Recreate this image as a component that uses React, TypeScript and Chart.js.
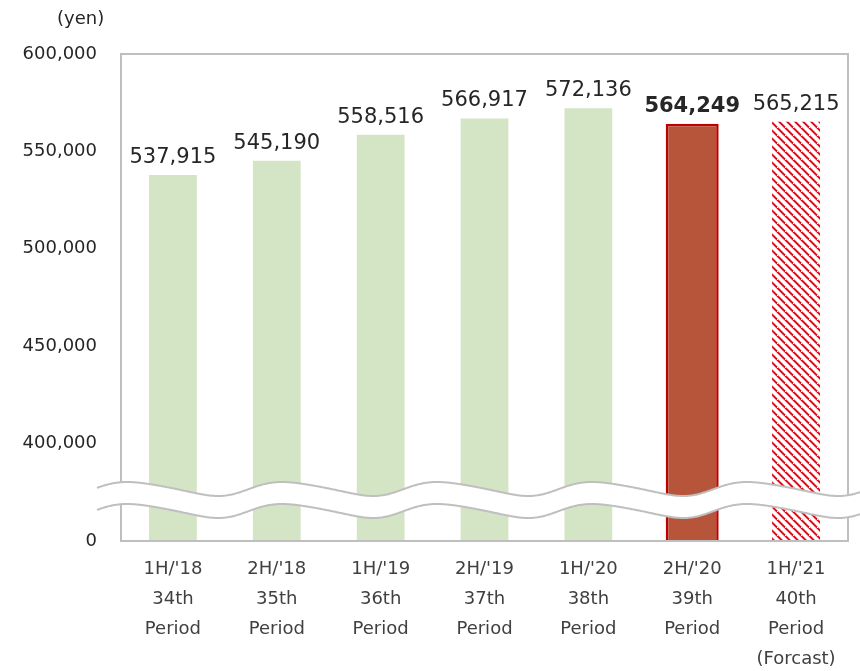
import React, { useEffect, useRef } from "react";
import { Chart, registerables } from "chart.js";

Chart.register(...registerables);

const periods: string[][] = [
  ["1H/'18", "34th", "Period"],
  ["2H/'18", "35th", "Period"],
  ["1H/'19", "36th", "Period"],
  ["2H/'19", "37th", "Period"],
  ["1H/'20", "38th", "Period"],
  ["2H/'20", "39th", "Period"],
  ["1H/'21", "40th", "Period", "(Forcast)"],
];
const values: number[] = [537915, 545190, 558516, 566917, 572136, 564249, 565215];
const kinds: string[] = ["actual", "actual", "actual", "actual", "actual", "latest", "forecast"];
const yTicks: number[] = [350000, 400000, 450000, 500000, 550000, 600000];
const yTickLabels: string[] = ["0", "400,000", "450,000", "500,000", "550,000", "600,000"];

const FONT = "'DejaVu Sans', Verdana, sans-serif";

function makePattern(): CanvasPattern | string {
  const c = document.createElement("canvas");
  c.width = 8;
  c.height = 8;
  const ctx = c.getContext("2d");
  if (!ctx) return "#e03030";
  ctx.fillStyle = "#ffffff";
  ctx.fillRect(0, 0, 8, 8);
  for (let y = 0; y < 8; y++) {
    for (let x = 0; x < 8; x++) {
      const d = (x - y + 16) % 8;
      if (y === 7 && d === 2) continue;
      if (d === 1 || d === 2) ctx.fillStyle = "#d8101e";
      else if (d === 0 || d === 3) ctx.fillStyle = "#f29aa0";
      else continue;
      ctx.fillRect(x, y, 1, 1);
    }
  }
  const p = ctx.createPattern(c, "repeat");
  return p || "#e03030";
}

const framePlugin = {
  id: "frameAndBreak",
  afterDatasetsDraw(chart: any) {
    const { ctx, chartArea } = chart;
    const { left, right, top, bottom } = chartArea;
    ctx.save();
    // plot frame
    ctx.strokeStyle = "#bfbfbf";
    ctx.lineWidth = 2;
    ctx.strokeRect(left, top, right - left, bottom - top);

    // axis break waves
    const c = bottom - 52;
    const A = 7;
    const P = 155;
    const x0 = left - 24;
    const x1 = chart.width;
    const gap = 22;
    const f = (x: number) => {
      const t = (x - (left + 6)) / P;
      const ph = 2 * Math.PI * t;
      return c - A * Math.cos(ph - 0.3 * (1 - Math.cos(ph)));
    };
    ctx.beginPath();
    for (let x = x0; x <= x1; x += 1) {
      if (x === x0) ctx.moveTo(x, f(x));
      else ctx.lineTo(x, f(x));
    }
    for (let x = x1; x >= x0; x -= 1) ctx.lineTo(x, f(x) + gap);
    ctx.closePath();
    ctx.fillStyle = "#ffffff";
    ctx.fill();

    ctx.strokeStyle = "#bfbfbf";
    ctx.lineWidth = 2;
    for (const off of [0, gap]) {
      ctx.beginPath();
      for (let x = x0; x <= x1; x += 1) {
        if (x === x0) ctx.moveTo(x, f(x) + off);
        else ctx.lineTo(x, f(x) + off);
      }
      ctx.stroke();
    }

    // value labels
    ctx.fillStyle = "#262626";
    ctx.textAlign = "center";
    ctx.textBaseline = "alphabetic";
    chart.data.datasets.forEach((ds: any, di: number) => {
      const meta = chart.getDatasetMeta(di);
      meta.data.forEach((bar: any, i: number) => {
        const v = ds.data[i];
        if (v == null) return;
        const bold = kinds[i] === "latest";
        ctx.font = `${bold ? "bold " : ""}21px ${FONT}`;
        ctx.fillText(v.toLocaleString("en-US"), bar.x, bar.y - 12);
      });
    });
    ctx.restore();
  },
};

export default function App() {
  const ref = useRef<HTMLCanvasElement | null>(null);

  useEffect(() => {
    if (!ref.current) return;
    const pattern = makePattern();
    const pick = (k: string) => values.map((v, i) => (kinds[i] === k ? v : null));
    const chart = new Chart(ref.current, {
      type: "bar",
      data: {
        labels: periods,
        datasets: [
          {
            label: "actual",
            data: pick("actual"),
            backgroundColor: "#d3e5c5",
            borderWidth: 0,
            barPercentage: 0.46,
            categoryPercentage: 1,
            grouped: false,
          } as any,
          {
            label: "latest",
            data: pick("latest"),
            backgroundColor: "#b7553b",
            borderColor: "#c00000",
            borderWidth: 2.5,
            barPercentage: 0.51,
            categoryPercentage: 1,
            grouped: false,
          } as any,
          {
            label: "forecast",
            data: pick("forecast"),
            backgroundColor: pattern,
            borderWidth: 0,
            barPercentage: 0.462,
            categoryPercentage: 1,
            grouped: false,
          } as any,
        ],
      },
      options: {
        animation: false,
        responsive: true,
        maintainAspectRatio: false,
        layout: { padding: { top: 54, right: 12, left: 0, bottom: 0 } },
        plugins: {
          legend: { display: false },
          tooltip: { enabled: false },
          title: { display: false },
        },
        scales: {
          x: {
            grid: { display: false, drawTicks: false },
            border: { display: false },
            ticks: {
              color: "#404040",
              font: { family: FONT, size: 18, lineHeight: 1.667 },
              padding: 13,
              maxRotation: 0,
              autoSkip: false,
            },
            afterFit: (s: any) => {
              s.height = 130;
            },
          },
          y: {
            min: 350000,
            max: 600000,
            grid: { display: false, drawTicks: false },
            border: { display: false },
            afterBuildTicks: (s: any) => {
              s.ticks = yTicks.map((v) => ({ value: v }));
            },
            ticks: {
              color: "#262626",
              font: { family: FONT, size: 18 },
              padding: 24,
              callback: (v: any) => {
                const i = yTicks.indexOf(Number(v));
                return i >= 0 ? yTickLabels[i] : "";
              },
            },
            afterFit: (s: any) => {
              s.width = 121;
            },
          },
        },
      },
      plugins: [framePlugin],
    });
    return () => chart.destroy();
  }, []);

  return (
    <div style={{ position: "fixed", left: 0, top: 0, width: 860, height: 671, background: "#fff" }}>
      <div
        style={{
          position: "absolute",
          left: 57,
          top: 7,
          fontFamily: FONT,
          fontSize: 18,
          lineHeight: "21px",
          color: "#262626",
        }}
      >
        (yen)
      </div>
      <canvas ref={ref} />
    </div>
  );
}
